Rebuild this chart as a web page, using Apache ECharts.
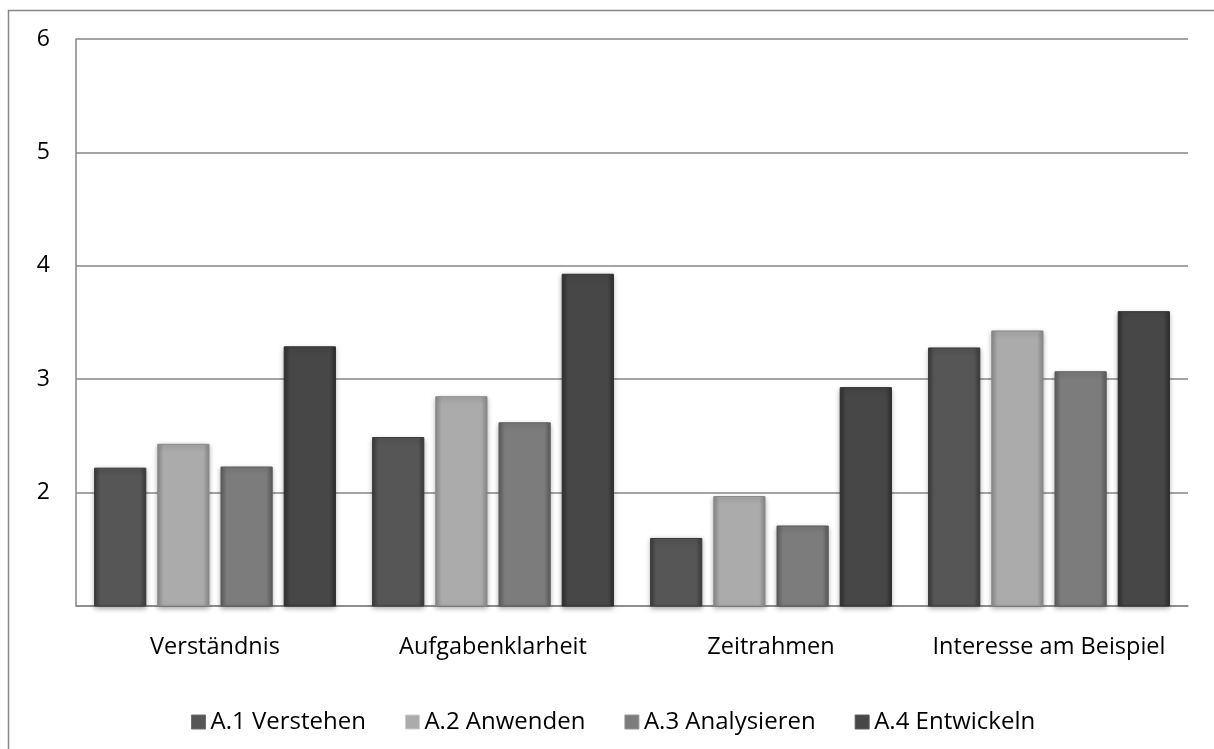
<!DOCTYPE html>
<html>
<head>
<meta charset="utf-8">
<script src="https://cdn.jsdelivr.net/npm/echarts@6/dist/echarts.min.js"></script>
<style>
  html, body { margin: 0; padding: 0; background: #fff; }
  #chart { width: 1214px; height: 749px; }
</style>
</head>
<body>
<div id="chart"></div>
<script>
// data
const categories = ["Verständnis", "Aufgabenklarheit", "Zeitrahmen", "Interesse am Beispiel"];
const seriesNames = ["A.1 Verstehen", "A.2 Anwenden", "A.3 Analysieren", "A.4 Entwickeln"];
const a1Verstehen = [2.22, 2.49, 1.60, 3.28];
const a2Anwenden = [2.43, 2.85, 1.97, 3.43];
const a3Analysieren = [2.23, 2.62, 1.71, 3.07];
const a4Entwickeln = [3.29, 3.93, 2.93, 3.60];
const yTicks = { min: 1, max: 6, interval: 1 };

// styling
const fontFam = "'Open Sans', 'Liberation Sans', sans-serif";
const bodyColors = ["#565656", "#ababab", "#7c7c7c", "#474747"];
const edgeColors = ["#3a3a3a", "#8a8a8a", "#5c5c5c", "#2e2e2e"];
const capColors = ["#6e6e6e", "#cfcfcf", "#969696", "#5e5e5e"];

const seriesData = [a1Verstehen, a2Anwenden, a3Analysieren, a4Entwickeln];

const bevel = (i) => ({
  type: "linear", x: 0, y: 0, x2: 1, y2: 0,
  colorStops: [
    { offset: 0, color: edgeColors[i] },
    { offset: 0.12, color: bodyColors[i] },
    { offset: 0.88, color: bodyColors[i] },
    { offset: 1, color: edgeColors[i] },
  ],
});

const chart = echarts.init(document.getElementById("chart"));

const option = {
  backgroundColor: "#fff",
  animation: false,
  graphic: [
    {
      type: "rect",
      shape: { x: 8.5, y: 10.5, width: 1400, height: 900 },
      style: { fill: "none", stroke: "#878787", lineWidth: 1.5 },
      silent: true,
    },
  ],
  grid: { left: 76, right: 26, top: 39, bottom: 143 },
  legend: {
    left: 186,
    top: 705,
    itemWidth: 14,
    itemHeight: 14,
    itemGap: 39,
    icon: "rect",
    textStyle: { fontFamily: fontFam, fontSize: 24, color: "#000" },
    data: seriesNames.map((n, i) => ({
      name: n,
      itemStyle: { color: bodyColors[i], borderColor: capColors[i], borderWidth: 1 },
    })),
  },
  xAxis: {
    type: "category",
    data: categories,
    axisLine: { lineStyle: { color: "#868686", width: 1.5 } },
    axisTick: { show: false },
    axisLabel: {
      interval: 0,
      margin: 29,
      fontFamily: fontFam,
      fontSize: 23.5,
      color: "#000",
    },
  },
  yAxis: {
    type: "value",
    min: yTicks.min,
    max: yTicks.max,
    interval: yTicks.interval,
    axisLine: { show: true, lineStyle: { color: "#868686", width: 1.5 } },
    axisTick: { show: false },
    splitLine: { lineStyle: { color: "#868686", width: 1.5 } },
    axisLabel: {
      showMinLabel: false,
      margin: 26,
      fontFamily: fontFam,
      fontSize: 23,
      color: "#000",
    },
  },
  series: seriesNames.map((name, i) => ({
    name: name,
    type: "bar",
    data: seriesData[i],
    barGap: "21%",
    barCategoryGap: "13%",
    itemStyle: {
      color: bevel(i),
      borderColor: edgeColors[i],
      borderWidth: 1,
      shadowColor: "rgba(0,0,0,0.35)",
      shadowBlur: 5,
      shadowOffsetY: 2,
    },
  })),
};

chart.setOption(option);
</script>
</body>
</html>
